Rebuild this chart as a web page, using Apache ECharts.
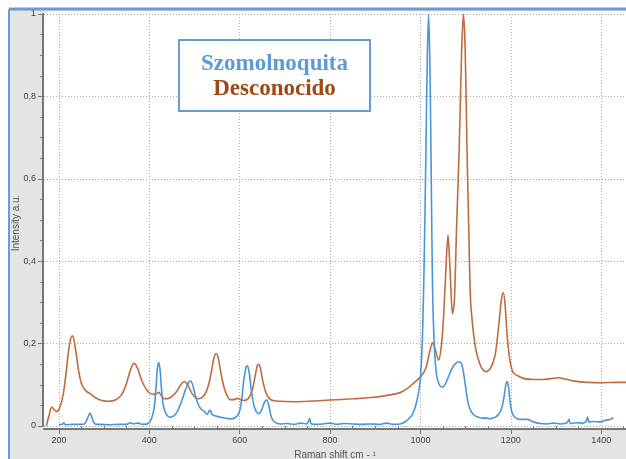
<!DOCTYPE html>
<html>
<head>
<meta charset="utf-8">
<script src="https://cdn.jsdelivr.net/npm/echarts@6/dist/echarts.min.js"></script>
<style>
  html, body { margin: 0; padding: 0; background: #fff; }
  #chart { width: 626px; height: 459px; }
</style>
</head>
<body>
<div id="chart"></div>
<script>
// Desconocido (brown) spectrum
const brownShift = [172, 178, 184, 189, 195, 202, 210, 216, 221, 226, 230, 234, 239, 245, 252, 261, 270, 282, 295, 310,
  325, 338, 348, 358, 366, 374, 384, 396, 408, 416, 421, 426, 433, 445, 458, 468, 477, 485, 495, 508,
  520, 530, 538, 543, 548, 553, 560, 568, 579, 588, 594, 602, 610, 620, 628, 634, 639, 642, 646, 652,
  660, 670, 690, 720, 750, 800, 850, 890, 930, 955, 970, 988, 1001, 1012, 1020, 1027, 1033, 1040, 1046, 1051,
  1056, 1061, 1066, 1071, 1075, 1080, 1086, 1091, 1095, 1099, 1103, 1107, 1111, 1117, 1123, 1134, 1145, 1155, 1165, 1173,
  1179, 1183, 1187, 1192, 1198, 1205, 1215, 1230, 1250, 1270, 1290, 1306, 1320, 1340, 1370, 1400, 1430, 1455];
const brownIntensity = [0.0, 0.025, 0.046, 0.040, 0.035, 0.045, 0.080, 0.130, 0.180, 0.212, 0.219, 0.205, 0.170, 0.125, 0.097, 0.084, 0.078, 0.068, 0.062, 0.060,
  0.063, 0.075, 0.098, 0.135, 0.152, 0.140, 0.108, 0.085, 0.077, 0.078, 0.082, 0.075, 0.066, 0.068, 0.080, 0.097, 0.108, 0.100, 0.078, 0.066,
  0.072, 0.095, 0.135, 0.165, 0.176, 0.163, 0.120, 0.085, 0.064, 0.064, 0.067, 0.064, 0.062, 0.068, 0.088, 0.120, 0.146, 0.150, 0.140, 0.105,
  0.076, 0.063, 0.060, 0.059, 0.060, 0.063, 0.066, 0.069, 0.075, 0.081, 0.090, 0.107, 0.120, 0.140, 0.178, 0.202, 0.185, 0.160, 0.190, 0.260,
  0.370, 0.464, 0.370, 0.272, 0.300, 0.480, 0.680, 0.900, 1.000, 0.920, 0.680, 0.480, 0.306, 0.230, 0.184, 0.144, 0.132, 0.140, 0.170, 0.240,
  0.305, 0.324, 0.300, 0.220, 0.160, 0.130, 0.122, 0.115, 0.113, 0.113, 0.115, 0.117, 0.114, 0.109, 0.106, 0.105, 0.106, 0.106];

// Szomolnoquita (blue) spectrum
const blueShift = [200, 208, 211, 214, 230, 250, 258, 263, 269, 274, 279, 290, 310, 330, 350, 358, 365, 375, 385, 398,
  405, 411, 415, 418, 421, 424, 427, 431, 437, 446, 455, 462, 468, 474, 480, 486, 491, 496, 501, 507,
  514, 522, 528, 532, 535, 539, 548, 560, 570, 580, 590, 598, 604, 609, 614, 617, 621, 626, 632, 638,
  643, 649, 655, 660, 665, 670, 677, 690, 705, 720, 735, 748, 752, 755, 758, 770, 785, 800, 815, 830,
  850, 870, 890, 910, 925, 940, 955, 965, 975, 984, 992, 999, 1004, 1008, 1012, 1015, 1018, 1021, 1024, 1027,
  1031, 1036, 1042, 1049, 1056, 1063, 1070, 1078, 1086, 1092, 1097, 1102, 1107, 1113, 1122, 1132, 1145, 1155, 1165, 1172,
  1179, 1185, 1189, 1192, 1195, 1199, 1203, 1210, 1220, 1236, 1250, 1265, 1280, 1295, 1310, 1320, 1326, 1329, 1332, 1345,
  1360, 1367, 1370, 1373, 1385, 1398, 1410, 1420, 1427];
const blueIntensity = [0.003, 0.004, 0.008, 0.003, 0.004, 0.004, 0.006, 0.018, 0.031, 0.018, 0.006, 0.004, 0.003, 0.004, 0.004, 0.008, 0.005, 0.007, 0.004, 0.006,
  0.018, 0.045, 0.095, 0.140, 0.154, 0.135, 0.090, 0.050, 0.030, 0.021, 0.025, 0.035, 0.050, 0.068, 0.088, 0.104, 0.110, 0.100, 0.078, 0.056,
  0.042, 0.035, 0.028, 0.036, 0.038, 0.028, 0.024, 0.021, 0.019, 0.017, 0.020, 0.030, 0.060, 0.110, 0.142, 0.146, 0.130, 0.085, 0.048, 0.033,
  0.030, 0.040, 0.058, 0.063, 0.048, 0.022, 0.010, 0.005, 0.006, 0.004, 0.007, 0.005, 0.010, 0.018, 0.006, 0.004, 0.005, 0.007, 0.004, 0.006,
  0.005, 0.004, 0.005, 0.004, 0.007, 0.004, 0.005, 0.009, 0.018, 0.032, 0.060, 0.105, 0.200, 0.380, 0.650, 0.880, 1.000, 0.880, 0.600, 0.330,
  0.190, 0.122, 0.100, 0.094, 0.104, 0.122, 0.140, 0.152, 0.156, 0.148, 0.118, 0.080, 0.050, 0.034, 0.024, 0.020, 0.019, 0.018, 0.021, 0.027,
  0.040, 0.070, 0.100, 0.108, 0.095, 0.055, 0.032, 0.020, 0.016, 0.016, 0.010, 0.006, 0.005, 0.007, 0.005, 0.006, 0.010, 0.016, 0.006, 0.008,
  0.007, 0.012, 0.022, 0.010, 0.011, 0.010, 0.014, 0.016, 0.020];

const xMajorTicks = [200, 400, 600, 800, 1000, 1200, 1400];
const xMinorTicks = [250, 300, 350, 450, 500, 550, 650, 700, 750, 850, 900, 950, 1050, 1100, 1150, 1250, 1300, 1350, 1450];

const legendNames = ['Szomolnoquita', 'Desconocido'];

function pairs(xs, ys) {
  return xs.map((x, i) => [x, ys[i]]);
}

const chart = echarts.init(document.getElementById('chart'));

const gridLine = { show: true, lineStyle: { color: '#a8a8a8', type: [1, 2], width: 1 } };

chart.setOption({
  animation: false,
  backgroundColor: '#ffffff',
  textStyle: { fontFamily: 'Liberation Sans, Arial, sans-serif' },
  graphic: [
    // outer grey panel and blue frame
    { type: 'rect', z: -10, silent: true, shape: { x: 9, y: 9, width: 620, height: 455 }, style: { fill: '#e4e4e4' } },
    { type: 'rect', z: -9, silent: true, shape: { x: 44, y: 11, width: 585, height: 419, r: [6, 0, 0, 0] }, style: { fill: '#ffffff' } },
    { type: 'line', z: 50, silent: true, shape: { x1: 9, y1: 9, x2: 626, y2: 9 }, style: { stroke: '#6d9dd0', lineWidth: 3 } },
    { type: 'line', z: 50, silent: true, shape: { x1: 9, y1: 9, x2: 9, y2: 459 }, style: { stroke: '#6d9dd0', lineWidth: 2 } },
    // y axis title
    { type: 'text', z: 40, x: 16, y: 223, rotation: Math.PI / 2, style: { text: 'Intensity a.u.', fill: '#555', font: '10px "Liberation Sans", sans-serif', align: 'center', verticalAlign: 'middle' } },
    // legend box
    { type: 'rect', z: 60, shape: { x: 179, y: 40, width: 191, height: 71 }, style: { fill: '#ffffff', stroke: '#6a9bd1', lineWidth: 2 } },
    { type: 'text', z: 61, x: 274.5, y: 64, style: { text: legendNames[0], fill: '#5b9bd5', font: 'bold 23px "Liberation Serif", serif', align: 'center', verticalAlign: 'middle' } },
    { type: 'text', z: 61, x: 274.5, y: 89, style: { text: legendNames[1], fill: '#9c4a12', font: 'bold 23px "Liberation Serif", serif', align: 'center', verticalAlign: 'middle' } }
  ],
  grid: { left: 44, right: 0, top: 14, bottom: 33, containLabel: false, outerBoundsMode: 'none' },
  xAxis: [
    {
      type: 'value', min: 167, max: 1455, position: 'bottom', offset: 3,
      name: 'Raman shift cm - \u00b9', nameLocation: 'middle', nameGap: 17,
      nameTextStyle: { color: '#555', fontSize: 10 },
      axisLine: { show: true, onZero: false, lineStyle: { color: '#777', width: 2 } },
      axisTick: { show: true, length: 5, customValues: xMajorTicks, lineStyle: { color: '#777' } },
      axisLabel: { customValues: xMajorTicks, color: '#444', fontSize: 9, margin: 7, formatter: v => String(v) },
      splitLine: gridLine
    },
    {
      type: 'value', min: 167, max: 1455, position: 'bottom', offset: 3,
      axisLine: { show: false },
      axisTick: { show: true, length: 3, customValues: xMinorTicks, lineStyle: { color: '#777' } },
      axisLabel: { show: false },
      splitLine: { show: false }
    }
  ],
  yAxis: {
    type: 'value', min: 0, max: 1, interval: 0.2, offset: 1,
    axisLine: { show: true, lineStyle: { color: '#777', width: 2 } },
    axisTick: { show: true, length: 5, lineStyle: { color: '#777' } },
    minorTick: { show: true, splitNumber: 4, length: 3, lineStyle: { color: '#777' } },
    axisLabel: { color: '#444', fontSize: 9, margin: 7, formatter: v => String(v).replace('.', ',') },
    splitLine: gridLine
  },
  series: [
    {
      name: legendNames[1], type: 'line', xAxisIndex: 0, showSymbol: false, smooth: 0.3,
      lineStyle: { color: '#bf6b3b', width: 1.6 }, itemStyle: { color: '#bf6b3b' },
      data: pairs(brownShift, brownIntensity)
    },
    {
      name: legendNames[0], type: 'line', xAxisIndex: 0, showSymbol: false, smooth: 0.3,
      lineStyle: { color: '#4796db', width: 1.6 }, itemStyle: { color: '#4796db' },
      data: pairs(blueShift, blueIntensity)
    }
  ]
});
</script>
</body>
</html>
